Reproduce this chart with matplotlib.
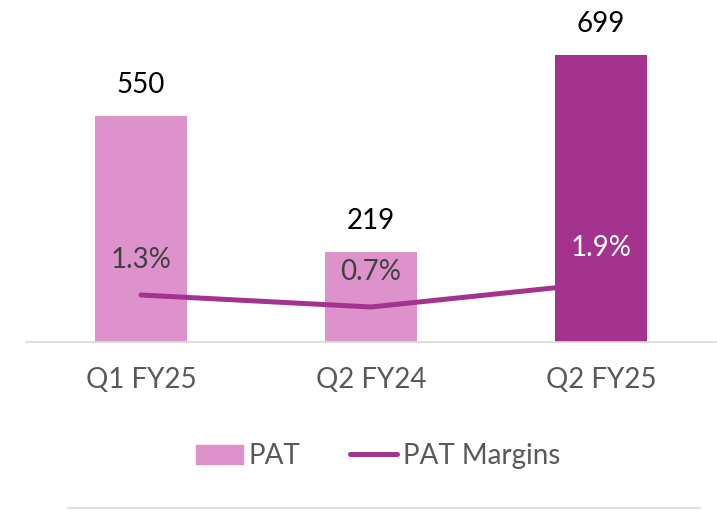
import matplotlib
matplotlib.use('Agg')
import matplotlib.pyplot as plt
from matplotlib.patches import Patch
from matplotlib.lines import Line2D

plt.rcParams['font.family'] = ['Lato', 'DejaVu Sans']

# data
quarters = ['Q1 FY25', 'Q2 FY24', 'Q2 FY25']
pat = [550, 219, 699]
margins = [1.3, 0.7, 1.9]
margin_labels = ['1.3%', '0.7%', '1.9%']

light = '#DD92CB'
dark = '#A3338E'
bar_colors = [light, light, dark]
margin_text_colors = ['#404040', '#404040', 'white']

fig = plt.figure(figsize=(7.17, 5.12), dpi=100)
ax = fig.add_axes([26/717, 1 - 342/512, 690/717, 342/512])
ax2 = ax.twinx()

x = list(range(len(quarters)))
ax.bar(x, pat, width=0.4, color=bar_colors, zorder=2)
ax.set_xlim(-0.5, 2.5)
ax.set_ylim(0, 832)

for xi, v in zip(x, pat):
    ax.annotate(str(v), (xi, v), xytext=(0, 13), textcoords='offset points',
                ha='center', va='bottom', fontsize=20, color='black')

ax2.plot(x, margins, color=dark, lw=3.6, solid_capstyle='round', zorder=3)
ax2.set_ylim(-1.05, 16.05)
for xi, m, lab, c in zip(x, margins, margin_labels, margin_text_colors):
    ax2.annotate(lab, (xi, m), xytext=(0, 16), textcoords='offset points',
                 ha='center', va='bottom', fontsize=20, color=c)

for a in (ax, ax2):
    for s in ['top', 'right', 'left']:
        a.spines[s].set_visible(False)
    a.set_yticks([])
ax2.spines['bottom'].set_visible(False)
ax.spines['bottom'].set_color('#D9D9D9')
ax.spines['bottom'].set_linewidth(1.2)
ax.set_xticks(x)
ax.set_xticklabels(quarters, fontsize=20, color='#595959')
ax.tick_params(axis='x', length=0, pad=18)

handles = [Patch(color=light, label='PAT'),
           Line2D([], [], color=dark, lw=3.6, solid_capstyle='round', label='PAT Margins')]
fig.legend(handles=handles, loc='center', bbox_to_anchor=(378/717, 1 - 456/512),
           ncol=2, frameon=False, fontsize=20, labelcolor='#595959',
           handlelength=1.7, handletextpad=0.2, columnspacing=1.8)

fig.add_artist(Line2D([68/717, 700/717], [1 - 508/512] * 2, color='#D9D9D9', lw=1.2))

fig.savefig('out.png', dpi=100)
